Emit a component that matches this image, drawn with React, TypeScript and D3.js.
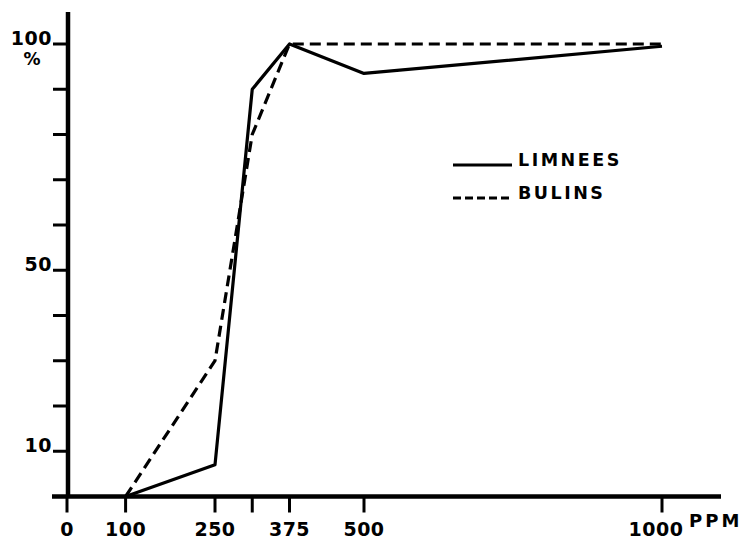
import { useEffect, useRef } from 'react';
import * as d3 from 'd3';

const ppm = [100, 250, 312.5, 375, 500, 1000];
const limnees = [0, 7, 90, 100, 93.5, 99.5];
const bulinsPpm = [100, 250, 312.5, 375, 1000];
const bulins = [0, 30, 80, 100, 100];

const xTicks = [0, 100, 250, 312.5, 375, 500, 1000];
const xTickLabels = ['0', '100', '250', '', '375', '500', '1000'];
const yTicks = [10, 20, 30, 40, 50, 60, 70, 80, 90, 100];
const yTickLabels: Record<number, string> = { 10: '10', 50: '50', 100: '100' };

const FONT = '"DejaVu Sans", sans-serif';

const App = () => {
  const ref = useRef<SVGSVGElement | null>(null);

  useEffect(() => {
    const svg = d3.select(ref.current);
    svg.selectAll('*').remove();

    const x = d3.scaleLinear().domain([0, 1000]).range([66, 662]);
    const y = d3.scaleLinear().domain([0, 100]).range([496.5, 44]);

    const g = svg.append('g');

    // axes lines
    g.append('line')
      .attr('x1', 52).attr('x2', 721)
      .attr('y1', y(0)).attr('y2', y(0))
      .attr('stroke', '#000').attr('stroke-width', 4.5);
    g.append('line')
      .attr('x1', x(0) + 2).attr('x2', x(0) + 2)
      .attr('y1', 12).attr('y2', y(0))
      .attr('stroke', '#000').attr('stroke-width', 4.5);

    // x ticks
    const xt = g.selectAll('.xt').data(xTicks).enter().append('g')
      .attr('transform', d => `translate(${x(d) + (d === 0 ? 1 : 0)},${y(0)})`);
    xt.append('line')
      .attr('y1', 0).attr('y2', 16)
      .attr('stroke', '#000').attr('stroke-width', 3);
    xt.append('text')
      .attr('x', (d, i) => (i === xTicks.length - 1 ? -6 : 0))
      .attr('y', 39)
      .attr('text-anchor', 'middle')
      .attr('font-family', FONT)
      .attr('font-weight', 'bold')
      .attr('font-size', 19)
      .attr('letter-spacing', 0.5)
      .text((d, i) => xTickLabels[i]);

    // y ticks
    const yt = g.selectAll('.yt').data(yTicks).enter().append('g')
      .attr('transform', d => `translate(${x(0)},${y(d)})`);
    yt.append('line')
      .attr('x1', -13).attr('x2', 2)
      .attr('stroke', '#000').attr('stroke-width', 3);
    yt.append('text')
      .attr('x', -14)
      .attr('y', 1)
      .attr('text-anchor', 'end')
      .attr('font-family', FONT)
      .attr('font-weight', 'bold')
      .attr('font-size', 19)
      .attr('letter-spacing', 0.5)
      .text(d => yTickLabels[d] ?? '');

    g.append('text')
      .attr('x', 32).attr('y', 65)
      .attr('text-anchor', 'middle')
      .attr('font-family', FONT)
      .attr('font-weight', 'bold')
      .attr('font-size', 17)
      .text('%');

    g.append('text')
      .attr('x', 689).attr('y', 527)
      .attr('font-family', FONT)
      .attr('font-weight', 'bold')
      .attr('font-size', 18)
      .attr('letter-spacing', 3)
      .text('PPM');

    // series
    const line = d3.line<[number, number]>()
      .x(d => x(d[0]))
      .y(d => y(d[1]));

    g.append('path')
      .datum(ppm.map((p, i) => [p, limnees[i]] as [number, number]))
      .attr('d', line)
      .attr('fill', 'none')
      .attr('stroke', '#000')
      .attr('stroke-width', 3.2)
      .attr('stroke-linejoin', 'round');

    g.append('path')
      .datum(bulinsPpm.map((p, i) => [p, bulins[i]] as [number, number]))
      .attr('d', line)
      .attr('fill', 'none')
      .attr('stroke', '#000')
      .attr('stroke-width', 3.2)
      .attr('stroke-dasharray', '11,6');

    // legend
    const legend = g.selectAll('.lg')
      .data([
        { name: 'LIMNEES', dash: null },
        { name: 'BULINS', dash: '8,4' },
      ])
      .enter().append('g')
      .attr('transform', (d, i) => `translate(453,${165 + i * 33})`);
    legend.append('line')
      .attr('x1', 0).attr('x2', 59)
      .attr('stroke', '#000')
      .attr('stroke-width', 3)
      .attr('stroke-dasharray', d => d.dash);
    legend.append('text')
      .attr('x', 65).attr('y', 1)
      .attr('font-family', FONT)
      .attr('font-weight', 'bold')
      .attr('font-size', 17.5)
      .attr('letter-spacing', 2.5)
      .text(d => d.name);
  }, []);

  return (
    <svg
      ref={ref}
      width={744}
      height={538}
      style={{ position: 'absolute', left: 0, top: 0, background: '#fff' }}
    />
  );
};

export default App;
